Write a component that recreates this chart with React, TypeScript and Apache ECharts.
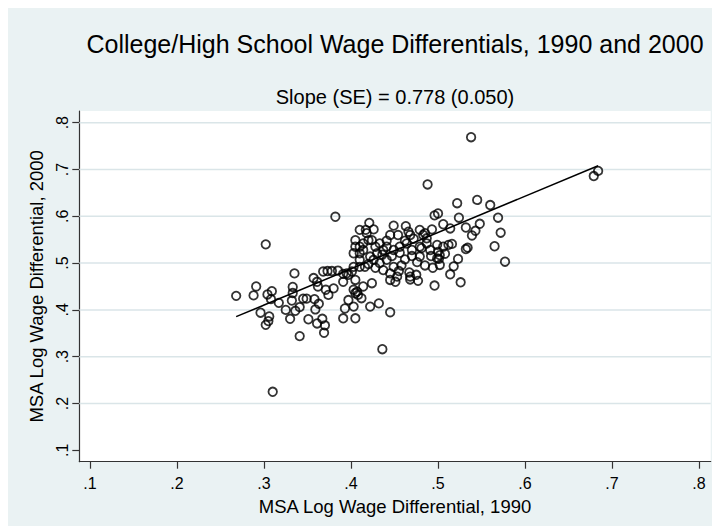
import React, { useEffect, useRef } from 'react';
import * as echarts from 'echarts';

// MSA log wage differentials
const wage1990 = [
  0.538, 0.679, 0.684, 0.488, 0.522, 0.545, 0.560, 0.569, 0.572, 0.565,
  0.577, 0.524, 0.532, 0.548, 0.543, 0.539, 0.534, 0.532, 0.496, 0.500,
  0.506, 0.514, 0.523, 0.518, 0.514, 0.526, 0.496, 0.477, 0.468, 0.475,
  0.501, 0.502, 0.493, 0.479, 0.485, 0.463, 0.466, 0.449, 0.445, 0.421,
  0.426, 0.417, 0.410, 0.418, 0.405, 0.410, 0.414, 0.403, 0.410, 0.420,
  0.424, 0.405, 0.433, 0.441, 0.449, 0.456, 0.464, 0.470, 0.479, 0.487,
  0.491, 0.499, 0.506, 0.512, 0.516, 0.426, 0.433, 0.441, 0.449, 0.445,
  0.453, 0.437, 0.430, 0.422, 0.410, 0.403, 0.395, 0.391, 0.422, 0.432,
  0.445, 0.451, 0.479, 0.481, 0.483, 0.487, 0.500, 0.502, 0.499, 0.454,
  0.468, 0.467, 0.468, 0.437, 0.414, 0.368, 0.373, 0.378, 0.385, 0.391,
  0.397, 0.401, 0.405, 0.414, 0.424, 0.445, 0.403, 0.405, 0.412, 0.397,
  0.393, 0.403, 0.391, 0.405, 0.268, 0.288, 0.291, 0.304, 0.309, 0.308,
  0.317, 0.296, 0.306, 0.305, 0.302, 0.310, 0.302, 0.382, 0.335, 0.333,
  0.333, 0.332, 0.325, 0.330, 0.336, 0.341, 0.345, 0.349, 0.341, 0.351,
  0.357, 0.361, 0.358, 0.363, 0.359, 0.361, 0.367, 0.370, 0.369, 0.362,
  0.371, 0.374, 0.380, 0.407, 0.410, 0.416, 0.408, 0.436,
  0.428, 0.436, 0.447, 0.456, 0.462, 0.470, 0.476, 0.485, 0.458, 0.420,
  0.428, 0.462, 0.472, 0.441, 0.455, 0.492, 0.494, 0.508,
];
const wage2000 = [
  0.769, 0.686, 0.697, 0.668, 0.628, 0.635, 0.624, 0.597, 0.565, 0.536,
  0.503, 0.597, 0.576, 0.584, 0.569, 0.559, 0.533, 0.530, 0.602, 0.606,
  0.583, 0.574, 0.509, 0.493, 0.476, 0.459, 0.452, 0.462, 0.471, 0.475,
  0.509, 0.496, 0.572, 0.571, 0.564, 0.579, 0.567, 0.580, 0.560, 0.586,
  0.572, 0.571, 0.571, 0.564, 0.535, 0.535, 0.542, 0.521, 0.521, 0.549,
  0.549, 0.549, 0.542, 0.535, 0.528, 0.535, 0.542, 0.528, 0.535, 0.542,
  0.528, 0.539, 0.535, 0.539, 0.541, 0.507, 0.500, 0.507, 0.492, 0.478,
  0.471, 0.485, 0.521, 0.514, 0.507, 0.492, 0.478, 0.460, 0.407, 0.414,
  0.395, 0.460, 0.514, 0.532, 0.560, 0.553, 0.524, 0.517, 0.510, 0.560,
  0.560, 0.480, 0.465, 0.528, 0.528, 0.482, 0.483, 0.483, 0.484, 0.477,
  0.475, 0.482, 0.464, 0.450, 0.457, 0.464, 0.443, 0.436, 0.425, 0.421,
  0.403, 0.407, 0.382, 0.382, 0.430, 0.431, 0.450, 0.433, 0.440, 0.423,
  0.415, 0.394, 0.386, 0.376, 0.368, 0.225, 0.540, 0.599, 0.478, 0.449,
  0.436, 0.420, 0.400, 0.381, 0.398, 0.406, 0.424, 0.424, 0.344, 0.380,
  0.468, 0.460, 0.423, 0.413, 0.401, 0.371, 0.381, 0.367, 0.351, 0.450,
  0.443, 0.432, 0.446, 0.439, 0.492, 0.492, 0.432, 0.316,
  0.535, 0.518, 0.515, 0.522, 0.508, 0.515, 0.502, 0.495, 0.495, 0.498,
  0.490, 0.548, 0.552, 0.548, 0.483, 0.515, 0.490, 0.520,
];

// Fitted regression line end points
const fitX = [0.268, 0.684];
const fitY = [0.3855, 0.708];

const tickValues = [0.1, 0.2, 0.3, 0.4, 0.5, 0.6, 0.7, 0.8];
const gridValues = [0.2, 0.3, 0.4, 0.5, 0.6, 0.7, 0.8];

const titleText = 'College/High School Wage Differentials, 1990 and 2000';
const subtitleText = 'Slope (SE) = 0.778 (0.050)';
const xName = 'MSA Log Wage Differential, 1990';
const yName = 'MSA Log Wage Differential, 2000';

const FONT = '"Liberation Sans", Arial, Helvetica, sans-serif';

export default function App() {
  const ref = useRef<HTMLDivElement>(null);

  useEffect(() => {
    if (!ref.current) return;
    const chart = echarts.init(ref.current, null, { renderer: 'svg' });
    const fmt = (v: number) => v.toFixed(1).replace(/^0/, '');
    const points = wage1990.map((x, i) => [x, wage2000[i]]);
    const fitLine = fitX.map((x, i) => [x, fitY[i]]);
    const xMin = 0.0877;
    const xMax = 0.8134;

    chart.setOption({
      animation: false,
      backgroundColor: '#EAF2F3',
      textStyle: { fontFamily: FONT },
      graphic: [
        {
          type: 'text',
          x: 387,
          y: 36,
          style: {
            text: titleText,
            font: `25px ${FONT}`,
            fill: '#000',
            textAlign: 'center',
            textVerticalAlign: 'middle',
          },
        },
        {
          type: 'text',
          x: 387,
          y: 89,
          style: {
            text: subtitleText,
            font: `20px ${FONT}`,
            fill: '#000',
            textAlign: 'center',
            textVerticalAlign: 'middle',
          },
        },
      ],
      grid: {
        left: 71.3,
        top: 103,
        right: 1.3,
        bottom: 64.3,
        show: true,
        z: -1,
        backgroundColor: '#ffffff',
        borderWidth: 0,
      },
      xAxis: {
        type: 'value',
        min: xMin,
        max: xMax,
        name: xName,
        nameLocation: 'middle',
        nameGap: 23,
        nameTextStyle: { fontSize: 18.5, color: '#000', fontFamily: FONT },
        axisLine: { show: true, onZero: false, lineStyle: { color: '#333', width: 1.2 } },
        axisTick: { show: true, length: 7, customValues: tickValues, lineStyle: { color: '#333', width: 1.2 } },
        axisLabel: {
          customValues: tickValues,
          formatter: fmt,
          fontSize: 16,
          color: '#000',
          margin: 14,
          fontFamily: FONT,
        },
        splitLine: { show: false },
      },
      yAxis: {
        type: 'value',
        min: 0.0756,
        max: 0.825,
        name: yName,
        nameLocation: 'middle',
        nameGap: 32,
        nameTextStyle: { fontSize: 18.5, color: '#000', fontFamily: FONT },
        axisLine: { show: true, onZero: false, lineStyle: { color: '#333', width: 1.2 } },
        axisTick: { show: true, length: 7, customValues: tickValues, lineStyle: { color: '#333', width: 1.2 } },
        axisLabel: {
          customValues: tickValues,
          formatter: fmt,
          rotate: 90,
          fontSize: 16,
          color: '#000',
          margin: 9,
          fontFamily: FONT,
        },
        splitLine: { show: false },
      },
      series: [
        ...gridValues.map((v) => ({
          type: 'line',
          data: [
            [xMin, v],
            [xMax, v],
          ],
          z: 1,
          symbol: 'none',
          silent: true,
          lineStyle: { color: '#DAE5E8', width: 1.5 },
        })),
        {
          type: 'line',
          data: fitLine,
          z: 2,
          symbol: 'none',
          silent: true,
          lineStyle: { color: '#000', width: 1.5 },
        },
        {
          type: 'scatter',
          data: points,
          z: 3,
          symbol: 'circle',
          symbolSize: 8.5,
          silent: true,
          itemStyle: { color: 'rgba(0,0,0,0)', borderColor: '#000', borderWidth: 1.8 },
        },
      ],
    });

    return () => chart.dispose();
  }, []);

  return (
    <div
      ref={ref}
      style={{ position: 'fixed', left: 8, top: 8, width: 704, height: 518 }}
    />
  );
}
